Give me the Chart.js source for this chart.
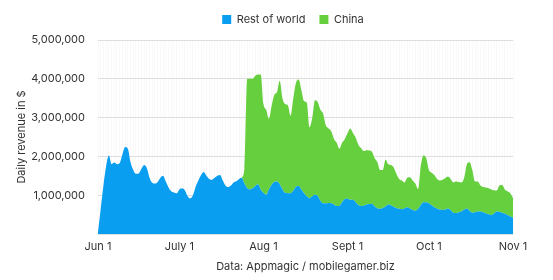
<!DOCTYPE html>
<html>
<head>
<meta charset="utf-8">
<script src="https://cdn.jsdelivr.net/npm/chart.js@4.4.1/dist/chart.umd.min.js"></script>
<style>
  html, body { margin: 0; padding: 0; background: #ffffff; }
  #wrap { width: 553px; height: 280px; position: relative; }
</style>
</head>
<body>
<div id="wrap"><canvas id="c" width="553" height="280"></canvas></div>
<script>
// Day index 0 = Jun 1, 153 = Nov 1
const tickDays = [0, 30, 61, 92, 122, 153];
const tickLabels = ['Jun 1', 'July 1', 'Aug 1', 'Sept 1', 'Oct 1', 'Nov 1'];
const yTicks = [0, 1000000, 2000000, 3000000, 4000000, 5000000];

// Rest of world daily revenue, millions $, days 0..153
const restOfWorldM = [
  0.05,0.65,1.25,1.75,2.02,1.80,1.84,1.80,1.83,2.05,
  2.24,2.20,1.85,1.65,1.55,1.56,1.68,1.78,1.70,1.45,
  1.32,1.30,1.34,1.45,1.50,1.35,1.20,1.10,1.07,1.05,
  1.15,1.17,1.13,0.98,0.92,1.00,1.22,1.38,1.52,1.60,
  1.50,1.42,1.40,1.45,1.50,1.52,1.38,1.25,1.21,1.25,
  1.33,1.36,1.42,1.45,1.30,1.18,1.15,1.18,1.24,1.28,
  1.15,1.06,1.01,1.15,1.27,1.34,1.35,1.28,1.15,1.06,
  1.05,1.05,1.12,1.22,1.24,1.15,1.05,0.97,0.92,0.97,
  1.01,0.98,0.86,0.79,0.79,0.80,0.79,0.76,0.72,0.73,
  0.82,0.90,0.91,0.88,0.88,0.82,0.75,0.72,0.73,0.76,
  0.77,0.78,0.71,0.66,0.65,0.67,0.71,0.76,0.74,0.70,
  0.67,0.65,0.64,0.66,0.69,0.66,0.62,0.60,0.65,0.75,
  0.82,0.82,0.79,0.74,0.69,0.66,0.63,0.62,0.63,0.66,
  0.62,0.55,0.54,0.56,0.58,0.63,0.66,0.60,0.55,0.56,
  0.58,0.58,0.56,0.53,0.51,0.49,0.53,0.58,0.57,0.55,
  0.52,0.49,0.45,0.42
];

// Top of the China layer (rest of world + China), millions $, from day 53 to 153
const chinaStartDay = 53;
const chinaTopM = [
  1.45,1.70,4.00,4.00,4.00,4.08,4.11,4.11,3.35,3.20,
  2.97,3.30,3.58,3.66,3.95,3.50,3.35,3.32,3.05,3.50,
  3.90,3.98,3.70,3.42,3.38,2.75,3.00,3.45,3.40,3.20,
  3.10,2.80,2.72,2.65,2.45,2.35,2.20,2.35,2.45,2.60,
  2.72,2.60,2.48,2.30,2.21,2.14,2.16,2.15,2.12,1.95,
  1.85,1.65,1.65,1.92,1.80,1.78,1.72,1.55,1.42,1.38,
  1.33,1.45,1.46,1.38,1.30,1.16,1.75,2.02,1.95,1.65,
  1.58,1.52,1.42,1.38,1.40,1.44,1.48,1.42,1.33,1.35,
  1.34,1.33,1.45,1.80,1.85,1.65,1.35,1.35,1.25,1.21,
  1.20,1.18,1.15,1.13,1.12,1.25,1.26,1.15,1.10,1.05,
  0.93
];

const seriesNames = ['Rest of world', 'China'];
const BLUE = '#0a9ef0';
const GREEN = '#66cf3e';

const rowPoints = restOfWorldM.map((v, i) => ({ x: i, y: v * 1e6 }));
const chinaPoints = chinaTopM.map((v, i) => ({ x: chinaStartDay + i, y: v * 1e6 }));

const layoutPlugin = {
  id: 'layoutFix',
  afterInit(chart) {
    const lg = chart.legend;
    const origFit = lg.fit;
    lg.fit = function () { origFit.call(this); this.height = 40; };
  },
  afterLayout(chart) {
    const lg = chart.legend;
    const shift = 293 - (lg.left + lg.right) / 2;
    lg.left += shift; lg.right += shift;
  }
};

const fontFamily = 'Inter, "Noto Sans", sans-serif';

new Chart(document.getElementById('c'), {
  type: 'line',
  data: {
    datasets: [
      {
        label: seriesNames[0],
        data: rowPoints,
        backgroundColor: BLUE,
        borderColor: BLUE,
        borderWidth: 0,
        pointRadius: 0,
        fill: 'origin',
        cubicInterpolationMode: 'monotone'
      },
      {
        label: seriesNames[1],
        data: chinaPoints,
        backgroundColor: GREEN,
        borderColor: GREEN,
        borderWidth: 0,
        pointRadius: 0,
        fill: '-1',
        cubicInterpolationMode: 'monotone'
      }
    ]
  },
  options: {
    responsive: false,
    animation: false,
    events: [],
    layout: { padding: { left: 0, right: 40, top: 0, bottom: 0 } },
    plugins: {
      tooltip: { enabled: false },
      legend: {
        position: 'top',
        align: 'center',
        labels: {
          boxWidth: 9,
          boxHeight: 9,
          padding: 14,
          color: '#333333',
          font: { family: fontFamily, size: 11 }
        }
      }
    },
    scales: {
      x: {
        type: 'linear',
        min: 0,
        max: 153,
        afterBuildTicks(scale) {
          const t = [];
          for (let d = 0; d <= 153; d++) t.push({ value: d });
          scale.ticks = t;
        },
        afterFit(scale) { scale.height = 46; },
        ticks: {
          autoSkip: false,
          maxRotation: 0,
          padding: 6,
          color: '#333333',
          font: { family: fontFamily, size: 11 },
          callback(v) {
            const k = tickDays.indexOf(v);
            return k >= 0 ? tickLabels[k] : '';
          }
        },
        grid: { color: 'rgba(0,0,0,0.025)', drawTicks: false },
        border: { display: false },
        title: {
          display: true,
          text: 'Data: Appmagic / mobilegamer.biz',
          color: '#333333',
          font: { family: fontFamily, size: 11 },
          padding: { top: 0, bottom: 7 }
        }
      },
      y: {
        min: 0,
        max: 5000000,
        afterBuildTicks(scale) { scale.ticks = yTicks.map(v => ({ value: v })); },
        afterFit(scale) { scale.width = 98; },
        ticks: {
          padding: 13,
          color: '#333333',
          font: { family: fontFamily, size: 11 },
          callback(v) { return v === 0 ? '' : v.toLocaleString('en-US'); }
        },
        grid: { color: '#dedede', drawTicks: false },
        border: { display: false },
        title: {
          display: true,
          text: 'Daily revenue in $',
          color: '#333333',
          font: { family: fontFamily, size: 11 },
          padding: { top: 15, bottom: 0 }
        }
      }
    }
  },
  plugins: [layoutPlugin]
});
</script>
</body>
</html>
